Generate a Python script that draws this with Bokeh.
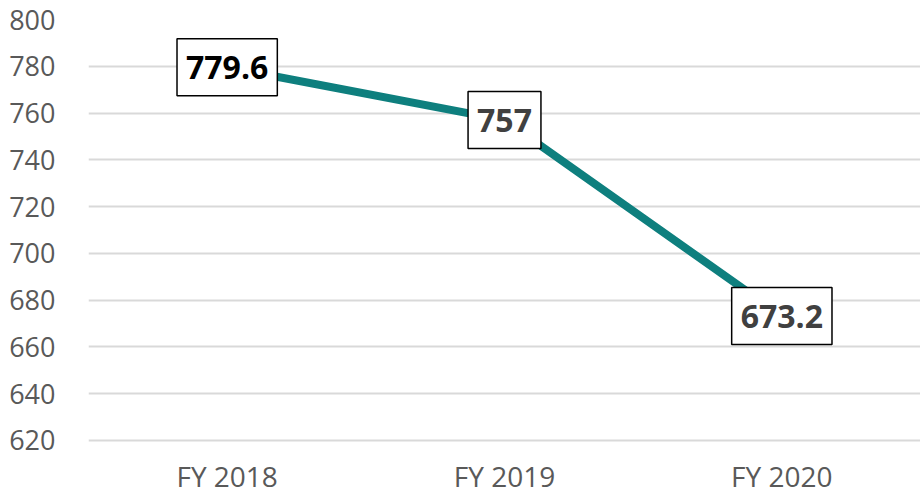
from bokeh.plotting import figure
from bokeh.models import Range1d, ColumnDataSource, FixedTicker
from bokeh.core.properties import value
from bokeh.embed import file_html
from bokeh.resources import INLINE

categories = ["FY 2018", "FY 2019", "FY 2020"]
values = [779.6, 757, 673.2]
label_texts = ["779.6", "757", "673.2"]
label_colors = ["#000000", "#404040", "#404040"]
y_ticks = [620, 640, 660, 680, 700, 720, 740, 760, 780, 800]
axis_floor = [620, 620, 620]

FONT = "Open Sans"

# 800 at frame top (y=19), 620 gridline at y~440.5; frame extends to page bottom
p = figure(x_range=categories, y_range=Range1d(596.9, 800), width=920, height=494,
           output_backend="svg", toolbar_location=None,
           min_border_left=88, min_border_right=0, min_border_top=19, min_border_bottom=0)
p.outline_line_color = None
p.background_fill_color = "white"
p.xaxis.visible = False

p.line(x=categories, y=values, line_color="#0E7F7E", line_width=8, line_cap="round")

src = ColumnDataSource(dict(x=categories, y=values, t=label_texts, c=label_colors))
p.text(x="x", y="y", text="t", source=src, text_color="c",
       text_font=value(FONT), text_font_style="bold", text_font_size="32px",
       text_align="center", text_baseline="middle",
       background_fill_color="white", border_line_color="black", border_line_width=1.5,
       padding=(9, 17))

cat_src = ColumnDataSource(dict(x=categories, y=axis_floor, t=categories))
p.text(x="x", y="y", text="t", source=cat_src, text_color="#595959",
       text_font=value(FONT), text_font_size="28px",
       text_align="center", text_baseline="middle", y_offset=36)

p.yaxis.ticker = FixedTicker(ticks=y_ticks)
p.ygrid.ticker = FixedTicker(ticks=y_ticks)
p.xgrid.grid_line_color = None
p.ygrid.grid_line_color = "#d9d9d9"
p.ygrid.grid_line_width = 2

ax = p.yaxis[0]
ax.axis_line_color = None
ax.major_tick_line_color = None
ax.minor_tick_line_color = None
ax.major_label_text_font = FONT
ax.major_label_text_color = "#595959"
ax.major_label_text_font_size = "27px"
ax.major_label_standoff = 27

open("out.html", "w").write(file_html(p, INLINE))
